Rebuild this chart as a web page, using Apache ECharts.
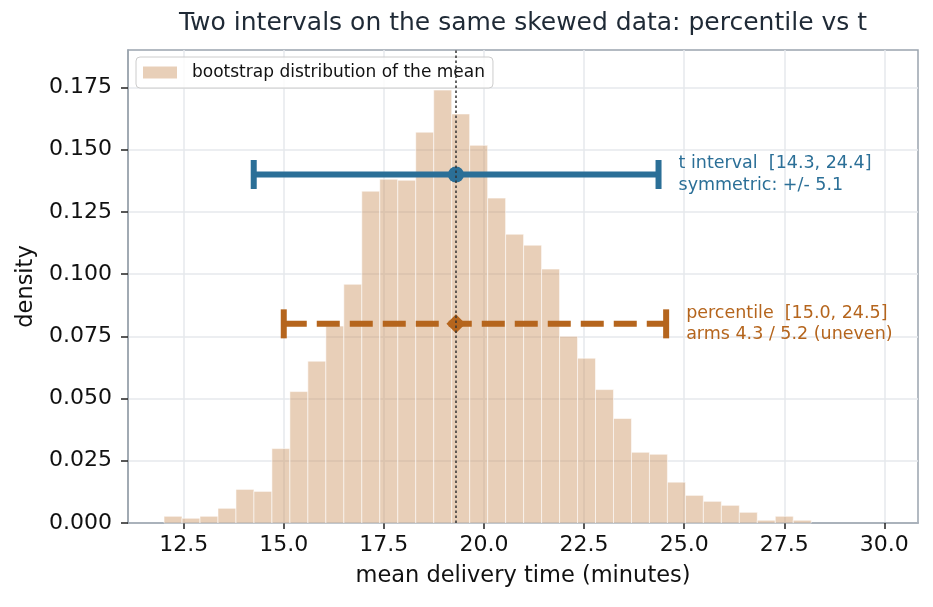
<!DOCTYPE html>
<html>
<head>
<meta charset="utf-8">
<title>percentile vs t</title>
<script src="https://cdn.jsdelivr.net/npm/echarts@6/dist/echarts.min.js"></script>
<style>
  html, body { margin: 0; padding: 0; background: #fff; }
  #chart { width: 933px; height: 607px; }
</style>
</head>
<body>
<div id="chart"></div>
<script>
// bootstrap histogram of the mean (density), 36 equal bins
var binStart = 12.01;
var binWidth = 0.449;
var density = [
  0.0027, 0.0019, 0.0027, 0.0059, 0.0135, 0.0127, 0.0299, 0.0528, 0.0650,
  0.0791, 0.0959, 0.1333, 0.1381, 0.1377, 0.1570, 0.1739, 0.1643, 0.1517,
  0.1305, 0.1160, 0.1116, 0.1020, 0.0750, 0.0662, 0.0536, 0.0420, 0.0284,
  0.0276, 0.0164, 0.0111, 0.0087, 0.0071, 0.0043, 0.0011, 0.0027, 0.0011
];

var meanValue = 19.30;

// the two intervals (t first, percentile second)
var intervalLo = [14.25, 15.0];
var intervalHi = [24.36, 24.55];
var intervalY = [0.140, 0.080];
var intervalNotes = [
  ['t interval  [14.3, 24.4]', 'symmetric: +/- 5.1'],
  ['percentile  [15.0, 24.5]', 'arms 4.3 / 5.2 (uneven)']
];

var xTicks = [12.5, 15, 17.5, 20, 22.5, 25, 27.5, 30];
var yTicks = [0, 0.025, 0.05, 0.075, 0.1, 0.125, 0.15, 0.175];

var FONT = 'DejaVu Sans';
var barFill = 'rgba(204,148,97,0.45)';
var intervalColors = ['#2b6f97', '#b5651d'];
var spineColor = '#9ba4ae';
var gridColor = '#e6e9ed';

var histData = density.map(function (d, i) {
  return [binStart + i * binWidth, binStart + (i + 1) * binWidth, d];
});

var intervalData = intervalLo.map(function (lo, i) {
  return [lo, intervalHi[i], intervalY[i], meanValue];
});

function renderBin(params, api) {
  var top = api.coord([api.value(0), api.value(2)]);
  var bot = api.coord([api.value(1), 0]);
  return {
    type: 'rect',
    shape: { x: top[0], y: top[1], width: bot[0] - top[0], height: bot[1] - top[1] },
    style: { fill: barFill, stroke: 'rgba(255,255,255,0.55)', lineWidth: 1 }
  };
}

function renderInterval(params, api) {
  var i = params.dataIndex;
  var color = intervalColors[i];
  var lo = api.coord([api.value(0), api.value(2)]);
  var hi = api.coord([api.value(1), api.value(2)]);
  var c = api.coord([api.value(3), api.value(2)]);
  var cap = 14.5;
  var kids = [
    { type: 'line', shape: { x1: lo[0], y1: lo[1], x2: hi[0], y2: hi[1] },
      style: { stroke: color, lineWidth: 6, lineDash: i === 1 ? [23, 10] : null } },
    { type: 'line', shape: { x1: lo[0], y1: lo[1] - cap, x2: lo[0], y2: lo[1] + cap },
      style: { stroke: color, lineWidth: 6 } },
    { type: 'line', shape: { x1: hi[0], y1: hi[1] - cap, x2: hi[0], y2: hi[1] + cap },
      style: { stroke: color, lineWidth: 6 } }
  ];
  if (i === 0) {
    kids.push({ type: 'circle', shape: { cx: c[0], cy: c[1], r: 8 }, style: { fill: color } });
  } else {
    var r = 9.5;
    kids.push({ type: 'polygon',
      shape: { points: [[c[0] - r, c[1]], [c[0], c[1] - r], [c[0] + r, c[1]], [c[0], c[1] + r]] },
      style: { fill: color } });
  }
  kids.push({
    type: 'text', x: hi[0] + 20, y: hi[1],
    style: {
      text: intervalNotes[i].join('\n'), fill: color,
      font: '17.5px "' + FONT + '"', align: 'left', verticalAlign: 'middle', lineHeight: 21.5
    }
  });
  return { type: 'group', children: kids };
}

var chart = echarts.init(document.getElementById('chart'));
chart.setOption({
  animation: false,
  textStyle: { fontFamily: FONT },
  title: {
    text: 'Two intervals on the same skewed data: percentile vs t',
    left: 523, top: 11, padding: 0, textAlign: 'center',
    textStyle: { fontFamily: FONT, fontSize: 25, fontWeight: 'normal', color: '#1f2a36' }
  },
  legend: {
    left: 136, top: 57,
    padding: [7, 8, 7, 7],
    itemWidth: 34, itemHeight: 12,
    borderColor: '#cccccc', borderWidth: 1, borderRadius: 4,
    backgroundColor: 'rgba(255,255,255,0.85)',
    textStyle: { fontFamily: FONT, fontSize: 17, color: '#111', padding: [0, 0, 0, 10] },
    data: [{ name: 'bootstrap distribution of the mean', icon: 'rect',
             itemStyle: { color: barFill, borderWidth: 0 } }]
  },
  grid: {
    left: 128, right: 15, top: 50, bottom: 84,
    show: true, borderColor: spineColor, borderWidth: 1.5, backgroundColor: 'transparent'
  },
  xAxis: {
    type: 'value', min: 11.11, max: 30.84,
    name: 'mean delivery time (minutes)', nameLocation: 'middle', nameGap: 42,
    nameTextStyle: { fontFamily: FONT, fontSize: 22.5, color: '#111' },
    axisLine: { show: true, lineStyle: { color: spineColor, width: 1.5 } },
    axisTick: { show: true, customValues: xTicks, length: 6, lineStyle: { color: '#222', width: 1.5 } },
    axisLabel: { customValues: xTicks, fontSize: 22, color: '#111', margin: 11,
                 formatter: function (v) { return v.toFixed(1); } },
    splitLine: { show: true, lineStyle: { color: gridColor, width: 1.5 } }
  },
  yAxis: {
    type: 'value', min: 0, max: 0.19,
    name: 'density', nameLocation: 'middle', nameGap: 90,
    nameTextStyle: { fontFamily: FONT, fontSize: 22.5, color: '#111' },
    axisLine: { show: true, lineStyle: { color: spineColor, width: 1.5 } },
    axisTick: { show: true, customValues: yTicks, length: 7, lineStyle: { color: '#222', width: 1.5 } },
    axisLabel: { customValues: yTicks, fontSize: 22, color: '#111', margin: 16,
                 formatter: function (v) { return v.toFixed(3); } },
    splitLine: { show: true, lineStyle: { color: gridColor, width: 1.5 } }
  },
  series: [
    {
      name: 'bootstrap distribution of the mean',
      type: 'custom', z: 2,
      itemStyle: { color: barFill },
      renderItem: renderBin,
      encode: { x: [0, 1], y: 2 },
      data: histData
    },
    {
      name: 'intervals',
      type: 'custom', z: 4,
      renderItem: renderInterval,
      encode: { x: [0, 1], y: 2 },
      data: intervalData
    },
    {
      name: 'mean',
      type: 'scatter', z: 6,
      data: [],
      markLine: {
        silent: true, z: 10, symbol: 'none',
        label: { show: false },
        lineStyle: { color: '#333', width: 1.5, type: [2.5, 2.5] },
        data: [{ xAxis: meanValue }]
      }
    }
  ]
});
</script>
</body>
</html>
